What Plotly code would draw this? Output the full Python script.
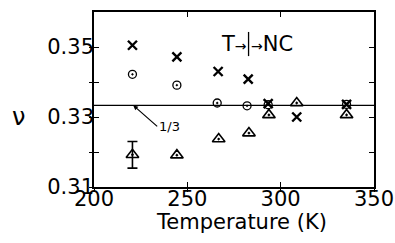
import plotly.graph_objects as go

# Data
temps = [220.6, 244.4, 266.5, 282.6, 293.3, 308.6, 335.3]
cross_vals = [0.3505, 0.3472, 0.3430, 0.3408, 0.3338, 0.3300, 0.3336]
circle_temps = [220.6, 244.4, 266.0, 282.0, 293.3, 335.3]
circle_vals = [0.3422, 0.3391, 0.3340, 0.3332, 0.3335, 0.3336]
tri_temps = [220.6, 244.4, 266.8, 283.0, 293.7, 308.6, 335.3]
tri_vals = [0.3192, 0.3191, 0.3237, 0.3254, 0.3306, 0.3340, 0.3306]
err_temp = [220.6]
err_val = [0.3192]
err_size = [0.0038]
ref_value = 1 / 3
transition_T = 282.8

x_ticks = [200, 250, 300, 350]
x_ticktext = ["200", "250", "300", "350"]
y_ticks = [0.31, 0.32, 0.33, 0.34, 0.35]
y_ticktext = ["0.31", "", "0.33", "", "0.35"]

FONT = "DejaVu Sans"
fig = go.Figure()

fig.add_trace(go.Scatter(x=temps, y=cross_vals, mode="markers",
                         marker=dict(symbol="x-thin-open", size=9, color="black",
                                     line=dict(width=2.4, color="black")),
                         showlegend=False))
fig.add_trace(go.Scatter(x=circle_temps, y=circle_vals, mode="markers",
                         marker=dict(symbol="circle-open-dot", size=8, color="black",
                                     line=dict(width=1.3, color="black")),
                         showlegend=False))
fig.add_trace(go.Scatter(x=tri_temps, y=tri_vals, mode="markers",
                         marker=dict(symbol="triangle-up-open-dot", size=11, color="black",
                                     line=dict(width=1.6, color="black")),
                         showlegend=False))
fig.add_trace(go.Scatter(x=err_temp, y=err_val, mode="markers",
                         marker=dict(size=1, color="rgba(0,0,0,0)"),
                         error_y=dict(type="data", array=err_size, color="black",
                                      thickness=1.6, width=5),
                         showlegend=False))
# dummy trace to activate overlay axes (outside tick marks)
fig.add_trace(go.Scatter(x=[200], y=[0.31], xaxis="x2", yaxis="y2", mode="markers",
                         marker=dict(size=1, color="rgba(0,0,0,0)"), showlegend=False,
                         hoverinfo="skip"))

# horizontal 1/3 line
fig.add_hline(y=ref_value, line=dict(color="black", width=1.1))

# transition marker
fig.add_shape(type="line", x0=transition_T, x1=transition_T, y0=0.3474, y1=0.3543,
              line=dict(color="black", width=1.3))
fig.add_annotation(x=transition_T, y=0.3508,
                   text="T<span style='font-size:14px'>→</span>", showarrow=False,
                   xanchor="right", xshift=0, font=dict(family=FONT, size=21, color="black"))
fig.add_annotation(x=transition_T, y=0.3508,
                   text="<span style='font-size:14px'>→</span>NC", showarrow=False,
                   xanchor="left", xshift=0, font=dict(family=FONT, size=21, color="black"))

# 1/3 label with arrow
fig.add_annotation(x=221, y=ref_value, text="1/3", showarrow=True, arrowhead=2,
                   arrowsize=0.8, arrowwidth=1.2, arrowcolor="black", ax=24, ay=21,
                   xanchor="left", yanchor="middle",
                   font=dict(family=FONT, size=13, color="black"))

# axis titles as annotations
fig.add_annotation(xref="paper", yref="paper", x=0.527, y=-0.2, text="Temperature (K)",
                   showarrow=False, font=dict(family=FONT, size=21, color="black"),
                   xanchor="center", yanchor="middle")
fig.add_annotation(xref="paper", yref="paper", x=-0.27, y=0.4, text="ν",
                   showarrow=False, font=dict(family=FONT, size=24, color="black"),
                   xanchor="center", yanchor="middle")

fig.update_layout(
    width=395, height=243,
    margin=dict(l=94, r=21, t=12, b=56, autoexpand=False),
    paper_bgcolor="white", plot_bgcolor="white",
    font=dict(family=FONT, size=21, color="black"),
    xaxis=dict(range=[200, 350], tickvals=x_ticks, ticktext=x_ticktext,
               ticks="inside", ticklen=5, tickwidth=1.3, tickcolor="black",
               showline=True, linecolor="black", linewidth=1.6, mirror="ticks",
               showgrid=False, zeroline=False, tickfont=dict(size=21),
               ticklabelstandoff=-8, automargin=False),
    yaxis=dict(range=[0.31, 0.36], tickvals=y_ticks, ticktext=y_ticktext,
               ticks="inside", ticklen=5, tickwidth=1.3, tickcolor="black",
               showline=True, linecolor="black", linewidth=1.6, mirror="ticks",
               showgrid=False, zeroline=False, tickfont=dict(size=21),
               ticklabelstandoff=-6, automargin=False),
    xaxis2=dict(range=[200, 350], overlaying="x", anchor="y2", tickvals=x_ticks,
                showticklabels=False, ticks="outside", ticklen=4, tickwidth=1.3,
                tickcolor="black", showgrid=False, zeroline=False, side="bottom",
                showline=False, automargin=False),
    yaxis2=dict(range=[0.31, 0.36], overlaying="y", anchor="x2", tickvals=y_ticks,
                showticklabels=False, ticks="outside", ticklen=4, tickwidth=1.3,
                tickcolor="black", showgrid=False, zeroline=False, side="left",
                showline=False, automargin=False),
)

fig.write_html("out.html", config={"displayModeBar": False},
               post_script="document.body.style.margin='0';document.body.style.overflow='hidden';")
